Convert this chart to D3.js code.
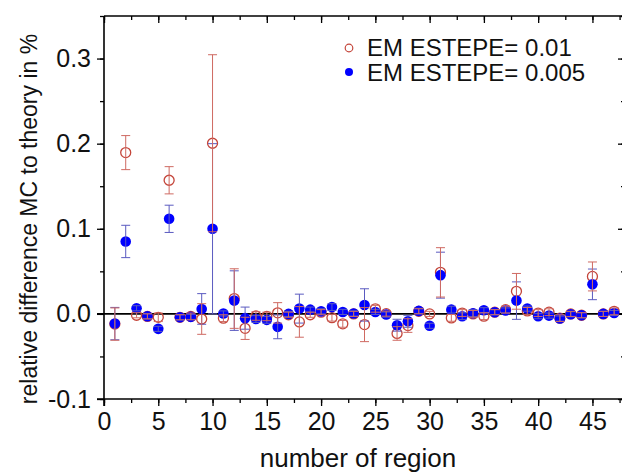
<!DOCTYPE html>
<html>
  <head>
    <meta charset="utf-8">
    <script type="text/javascript" src="https://cdn.jsdelivr.net/npm/d3@7"></script>
    <style>
      body { margin: 0; background: #fff; }
      text { font-family: "Liberation Sans", Arial, sans-serif; fill: #111; }
    </style>
  </head>
<body>
  <script type="text/javascript">
    // region numbers 1..47
    var regions = d3.range(1, 48);
    var seriesNames = ["EM ESTEPE= 0.01", "EM ESTEPE= 0.005"];

    var valRed = [-0.012, 0.1895, -0.0016, -0.003, -0.004, 0.157, -0.004, -0.003, -0.006, 0.2005,
      -0.005, 0.018, -0.017, -0.0025, -0.003, 0.0012, -0.001, -0.0094, -0.001, 0.002,
      -0.0045, -0.0117, 0.0, -0.0126, 0.006, 0.0003, -0.023, -0.0137, 0.003, 0.0,
      0.0488, -0.0047, 0.001, 0.0, -0.0027, 0.002, 0.005, 0.0265, 0.0035, 0.001,
      0.002, -0.005, 0.0, -0.0016, 0.044, 0.0, 0.003];
    var errRed = [0.019, 0.020, 0.003, 0.003, 0.005, 0.016, 0.003, 0.004, 0.018, 0.104,
      0.004, 0.035, 0.013, 0.005, 0.005, 0.012, 0.003, 0.018, 0.003, 0.003,
      0.004, 0.004, 0.003, 0.020, 0.004, 0.003, 0.008, 0.008, 0.003, 0.003,
      0.029, 0.004, 0.004, 0.004, 0.004, 0.003, 0.004, 0.021, 0.004, 0.004,
      0.004, 0.004, 0.003, 0.003, 0.017, 0.003, 0.004];

    var valBlue = [-0.0114, 0.0851, 0.0066, -0.0027, -0.0176, 0.1117, -0.004, -0.0035, 0.0058, 0.1,
      0.0005, 0.0156, -0.005, -0.006, -0.007, -0.0152, 0.0, 0.0062, 0.005, 0.003,
      0.008, 0.0023, 0.0004, 0.0105, 0.0023, -0.0008, -0.0133, -0.0087, 0.0035, -0.014,
      0.0455, 0.005, -0.0027, 0.0008, 0.0043, 0.002, 0.004, 0.0156, 0.0062, -0.0027,
      -0.002, -0.0055, -0.0004, -0.0016, 0.0347, 0.0, 0.001];
    var errBlue = [0.019, 0.019, 0.003, 0.003, 0.003, 0.016, 0.003, 0.003, 0.018, 0.100,
      0.003, 0.035, 0.013, 0.004, 0.004, 0.014, 0.003, 0.017, 0.003, 0.003,
      0.004, 0.003, 0.003, 0.019, 0.003, 0.003, 0.007, 0.007, 0.003, 0.003,
      0.027, 0.004, 0.004, 0.004, 0.003, 0.003, 0.003, 0.022, 0.003, 0.003,
      0.003, 0.003, 0.003, 0.003, 0.018, 0.003, 0.003];

    var xTicks = [0, 5, 10, 15, 20, 25, 30, 35, 40, 45];
    var yTicks = [-0.1, 0.0, 0.1, 0.2, 0.3];

    var width = 622;
    var height = 473;
    var margin = { left: 104, top: 16, right: -3, bottom: 74 };

    var red = "#c4453a";
    var redBar = "#cf6a62";
    var blue = "#0000ff";
    var blueBar = "#5a5ac0";

    var xScale = d3.scaleLinear().domain([0, 48]).range([margin.left, width - margin.right]);
    var yScale = d3.scaleLinear().domain([-0.1, 0.35]).range([height - margin.bottom, margin.top]);

    var svg = d3.select("body")
      .append("svg")
      .attr("width", width)
      .attr("height", height);

    var redData = regions.map(function (n, i) { return { n: n, v: valRed[i], e: errRed[i] }; });
    var blueData = regions.map(function (n, i) { return { n: n, v: valBlue[i], e: errBlue[i] }; });

    var x0 = xScale(0), x1 = xScale(48), yB = yScale(-0.1), yT = yScale(0.35);

    // zero line
    svg.append("line")
      .attr("x1", x0 - 7).attr("x2", x1)
      .attr("y1", yScale(0)).attr("y2", yScale(0))
      .attr("stroke", "#000").attr("stroke-width", 1.6);

    // axes: bottom / left outward, top / right inward
    var xMinor = d3.range(0, 48.1, 2.5);
    var yMinor = d3.range(-0.1, 0.351, 0.05);

    svg.append("g")
      .attr("transform", "translate(0," + yB + ")")
      .call(d3.axisBottom(xScale).tickValues(xMinor).tickSize(4).tickFormat(""))
      .call(function (g) { g.select(".domain").remove(); });
    svg.append("g")
      .attr("class", "xaxis")
      .attr("transform", "translate(0," + yB + ")")
      .call(d3.axisBottom(xScale).tickValues(xTicks).tickSize(7).tickSizeOuter(0).tickPadding(6))
      .call(function (g) { g.select(".domain").remove(); });

    svg.append("g")
      .attr("transform", "translate(" + x0 + ",0)")
      .call(d3.axisLeft(yScale).tickValues(yMinor).tickSize(4).tickFormat(""))
      .call(function (g) { g.select(".domain").remove(); });
    svg.append("g")
      .attr("class", "yaxis")
      .attr("transform", "translate(" + x0 + ",0)")
      .call(d3.axisLeft(yScale).tickValues(yTicks).tickSize(7).tickPadding(6)
        .tickFormat(function (d) { return d.toFixed(1); }))
      .call(function (g) { g.select(".domain").remove(); });

    svg.append("g")
      .attr("transform", "translate(0," + yT + ")")
      .call(d3.axisBottom(xScale).tickValues(xMinor).tickSize(4).tickFormat(""))
      .call(function (g) { g.select(".domain").remove(); });
    svg.append("g")
      .attr("transform", "translate(0," + yT + ")")
      .call(d3.axisBottom(xScale).tickValues(xTicks).tickSize(7).tickFormat(""))
      .call(function (g) { g.select(".domain").remove(); });

    svg.append("g")
      .attr("transform", "translate(" + x1 + ",0)")
      .call(d3.axisLeft(yScale).tickValues(yMinor).tickSize(4).tickFormat(""))
      .call(function (g) { g.select(".domain").remove(); });
    svg.append("g")
      .attr("transform", "translate(" + x1 + ",0)")
      .call(d3.axisLeft(yScale).tickValues(yTicks).tickSize(7).tickFormat(""))
      .call(function (g) { g.select(".domain").remove(); });

    svg.selectAll(".tick line").attr("stroke", "#000").attr("stroke-width", 1.3);
    svg.selectAll(".xaxis text, .yaxis text")
      .style("font-size", "25px")
      .style("font-family", "'Liberation Sans', Arial, sans-serif")
      .attr("fill", "#111");

    // frame lines
    svg.append("line").attr("x1", x0 - 7).attr("x2", x1).attr("y1", yB).attr("y2", yB)
      .attr("stroke", "#000").attr("stroke-width", 1.6);
    svg.append("line").attr("x1", x0).attr("x2", x1).attr("y1", yT).attr("y2", yT)
      .attr("stroke", "#000").attr("stroke-width", 1.6);
    svg.append("line").attr("x1", x0).attr("x2", x0).attr("y1", yT).attr("y2", yB + 7)
      .attr("stroke", "#000").attr("stroke-width", 1.6);

    function errorBars(data, color, cls) {
      var g = svg.append("g").attr("class", cls);
      g.selectAll("line.v").data(data).enter().append("line")
        .attr("x1", function (d) { return xScale(d.n); })
        .attr("x2", function (d) { return xScale(d.n); })
        .attr("y1", function (d) { return yScale(d.v - d.e); })
        .attr("y2", function (d) { return yScale(d.v + d.e); })
        .attr("stroke", color).attr("stroke-width", 1);
      [-1, 1].forEach(function (s) {
        g.selectAll("line.c" + s).data(data).enter().append("line")
          .attr("x1", function (d) { return xScale(d.n) - 4.5; })
          .attr("x2", function (d) { return xScale(d.n) + 4.5; })
          .attr("y1", function (d) { return yScale(d.v + s * d.e); })
          .attr("y2", function (d) { return yScale(d.v + s * d.e); })
          .attr("stroke", color).attr("stroke-width", 1);
      });
    }

    // red open circles
    svg.append("g").selectAll("circle").data(redData).enter().append("circle")
      .attr("cx", function (d) { return xScale(d.n); })
      .attr("cy", function (d) { return yScale(d.v); })
      .attr("r", 5)
      .attr("fill", "none")
      .attr("stroke", red)
      .attr("stroke-width", 1.3);

    // blue filled circles
    svg.append("g").selectAll("circle").data(blueData).enter().append("circle")
      .attr("cx", function (d) { return xScale(d.n); })
      .attr("cy", function (d) { return yScale(d.v); })
      .attr("r", 5.3)
      .attr("fill", blue);

    errorBars(blueData, blueBar, "errBlue");
    errorBars(redData, redBar, "errRed");

    // legend
    var legend = svg.append("g");
    legend.append("circle").attr("cx", 349).attr("cy", 48).attr("r", 3.8)
      .attr("fill", "none").attr("stroke", red).attr("stroke-width", 1.2);
    legend.append("circle").attr("cx", 349).attr("cy", 72).attr("r", 4)
      .attr("fill", blue);
    legend.selectAll("text").data(seriesNames).enter().append("text")
      .attr("x", 367)
      .attr("y", function (d, i) { return 56 + i * 25; })
      .style("font-size", "24px")
      .text(function (d) { return d; });

    // axis titles
    svg.append("text")
      .attr("x", 358)
      .attr("y", 467)
      .attr("text-anchor", "middle")
      .style("font-size", "26px")
      .text("number of region");

    svg.append("text")
      .attr("transform", "translate(37," + 219 + ") rotate(-90)")
      .attr("text-anchor", "middle")
      .style("font-size", "23px")
      .text("relative difference MC to theory in %");
  </script>
</body>
</html>
